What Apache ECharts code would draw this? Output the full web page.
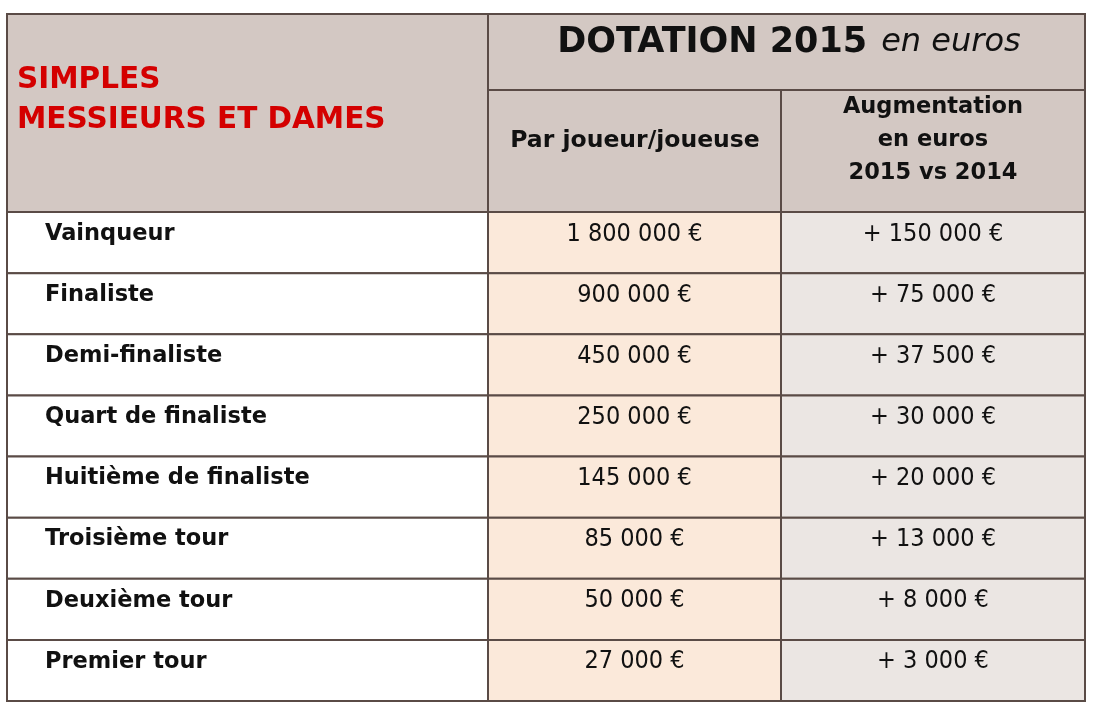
<!DOCTYPE html>
<html>
<head>
<meta charset="utf-8">
<script src="https://cdn.jsdelivr.net/npm/echarts@6/dist/echarts.min.js"></script>
<style>
  html, body { margin: 0; padding: 0; background: #fff; }
  #table1 { width: 1114px; height: 720px; }
</style>
</head>
<body>
<div id="table1"></div>
<script>
// data
var rounds = ['Vainqueur', 'Finaliste', 'Demi-finaliste', 'Quart de finaliste',
  'Huitième de finaliste', 'Troisième tour', 'Deuxième tour', 'Premier tour'];
var prizeMoney = [1800000, 900000, 450000, 250000, 145000, 85000, 50000, 27000];
var increase = [150000, 75000, 37500, 30000, 20000, 13000, 8000, 3000];

var titleMain = 'DOTATION 2015';
var titleSub = 'en euros';
var leftHead = ['SIMPLES', 'MESSIEURS ET DAMES'];
var colHeadPlayer = 'Par joueur/joueuse';
var colHeadIncrease = ['Augmentation', 'en euros', '2015 vs 2014'];

// layout (column edges in table units)
var colEdges = [0, 481, 774, 1078];
var borderColor = '#5a4b46';
var headerBg = '#d3c8c3';
var wideFont = '"DejaVu Sans", sans-serif';
var narrowFont = '"DejaVu Sans Condensed", "DejaVu Sans", sans-serif';

function euro(v) {
  return String(v).replace(/\B(?=(\d{3})+(?!\d))/g, ' ') + ' €';
}

var table1 = echarts.init(document.getElementById('table1'));

var option = {
  animation: false,
  grid: { left: 7, right: 29, top: 212, bottom: 19 },
  xAxis: { type: 'value', min: 0, max: 1078, show: false },
  yAxis: { type: 'category', data: rounds, inverse: true, show: false },
  graphic: [
    // header background
    { type: 'rect', shape: { x: 7, y: 14, width: 1078, height: 198 },
      style: { fill: headerBg, stroke: borderColor, lineWidth: 2 } },
    { type: 'line', shape: { x1: 488, y1: 14, x2: 488, y2: 212 },
      style: { stroke: borderColor, lineWidth: 2 } },
    { type: 'line', shape: { x1: 488, y1: 90, x2: 1085, y2: 90 },
      style: { stroke: borderColor, lineWidth: 2 } },
    { type: 'line', shape: { x1: 781, y1: 90, x2: 781, y2: 212 },
      style: { stroke: borderColor, lineWidth: 2 } },
    { type: 'text', left: 17, top: 60,
      style: { text: leftHead[0] + '\n' + leftHead[1], fill: '#d40000',
        font: 'bold 29.5px ' + wideFont, lineHeight: 40 } },
    { type: 'text', x: 789, y: 43,
      style: {
        text: '{a|' + titleMain + '}{b|' + titleSub + '}',
        align: 'center', verticalAlign: 'middle',
        rich: {
          a: { font: 'bold 35px ' + wideFont, fill: '#111', padding: [0, 14, 0, 0] },
          b: { font: 'italic 32px ' + wideFont, fill: '#111' }
        }
      } },
    { type: 'text', x: 635, y: 141,
      style: { text: colHeadPlayer, align: 'center', verticalAlign: 'middle',
        font: 'bold 23.5px ' + wideFont, fill: '#111' } },
    { type: 'text', x: 933, y: 140,
      style: { text: colHeadIncrease.join('\n'), align: 'center', verticalAlign: 'middle',
        font: 'bold 22.5px ' + wideFont, fill: '#111', lineHeight: 33 } }
  ],
  series: [
    {
      type: 'custom',
      data: rounds.map(function (r, i) { return [i, prizeMoney[i], increase[i]]; }),
      encode: { y: 0 },
      renderItem: function (params, api) {
        var idx = api.value(0);
        var center = api.coord([0, idx]);
        var h = api.size([0, 1])[1];
        var top = center[1] - h / 2;
        var xs = colEdges.map(function (e) { return api.coord([e, idx])[0]; });
        var fills = ['#ffffff', '#fbe9da', '#ebe6e3'];
        var children = [];
        for (var c = 0; c < 3; c++) {
          children.push({
            type: 'rect',
            shape: { x: xs[c], y: top, width: xs[c + 1] - xs[c], height: h },
            style: { fill: fills[c], stroke: borderColor, lineWidth: 2 }
          });
        }
        var ty = top + 22;
        children.push({
          type: 'text', x: xs[0] + 38, y: ty,
          style: { text: rounds[idx], verticalAlign: 'middle',
            font: 'bold 22.5px ' + wideFont, fill: '#111' }
        });
        children.push({
          type: 'text', x: (xs[1] + xs[2]) / 2, y: ty,
          style: { text: euro(api.value(1)), align: 'center', verticalAlign: 'middle',
            font: '25px ' + narrowFont, fill: '#111' }
        });
        children.push({
          type: 'text', x: (xs[2] + xs[3]) / 2, y: ty,
          style: { text: '+ ' + euro(api.value(2)), align: 'center', verticalAlign: 'middle',
            font: '25px ' + narrowFont, fill: '#111' }
        });
        return { type: 'group', children: children };
      }
    }
  ]
};

table1.setOption(option);
</script>
</body>
</html>
